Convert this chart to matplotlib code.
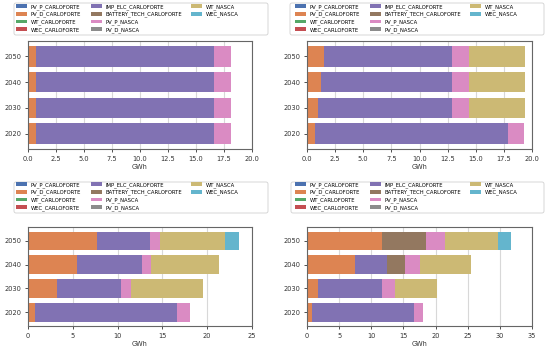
import matplotlib
matplotlib.use("Agg")
import matplotlib.pyplot as plt
from matplotlib.patches import FancyBboxPatch
from matplotlib.transforms import IdentityTransform
import numpy as np

years = ["2020", "2030", "2040", "2050"]
techs = ["PV_P_CARLOFORTE", "PV_D_CARLOFORTE", "WT_CARLOFORTE", "WEC_CARLOFORTE",
         "IMP_ELC_CARLOFORTE", "BATTERY_TECH_CARLOFORTE", "PV_P_NASCA", "PV_D_NASCA",
         "WT_NASCA", "WEC_NASCA"]
colors = ["#4c72b0", "#dd8452", "#55a868", "#c44e52", "#8172b3", "#937860",
          "#da8bc3", "#8c8c8c", "#ccb974", "#64b5cd"]

# Panel values (GWh) per tech, per year [2020, 2030, 2040, 2050]
p1 = {
    "PV_D_CARLOFORTE": [0.75, 0.75, 0.75, 0.75],
    "IMP_ELC_CARLOFORTE": [15.85, 15.85, 15.85, 15.85],
    "PV_P_NASCA": [1.5, 1.5, 1.5, 1.5],
}
p2 = {
    "PV_D_CARLOFORTE": [0.75, 1.0, 1.25, 1.5],
    "IMP_ELC_CARLOFORTE": [17.15, 11.9, 11.65, 11.4],
    "PV_P_NASCA": [1.4, 1.5, 1.5, 1.5],
    "WT_NASCA": [0.0, 4.95, 4.95, 4.95],
}
p3 = {
    "PV_D_CARLOFORTE": [0.74, 3.2, 5.5, 7.65],
    "IMP_ELC_CARLOFORTE": [15.94, 7.13, 7.24, 6.02],
    "PV_P_NASCA": [1.42, 1.11, 1.0, 1.08],
    "WT_NASCA": [0.0, 8.06, 7.56, 7.24],
    "WEC_NASCA": [0.0, 0.0, 0.0, 1.61],
}
p4 = {
    "PV_D_CARLOFORTE": [0.73, 1.67, 7.45, 11.67],
    "IMP_ELC_CARLOFORTE": [15.94, 10.05, 5.0, 0.0],
    "BATTERY_TECH_CARLOFORTE": [0.0, 0.0, 2.81, 6.87],
    "PV_P_NASCA": [1.43, 1.98, 2.34, 2.96],
    "WT_NASCA": [0.0, 6.6, 7.97, 8.24],
    "WEC_NASCA": [0.0, 0.0, 0.0, 2.03],
}
panels = [p1, p2, p3, p4]
xlims = [(0, 20), (0, 20), (0, 25), (0, 35)]
xticks = [np.arange(0, 20.1, 2.5), np.arange(0, 20.1, 2.5), np.arange(0, 26, 5), np.arange(0, 36, 5)]

W, H = 550, 349
fig = plt.figure(figsize=(W / 100, H / 100), dpi=100)
rects = [(28, 41, 252, 149), (307, 41, 532, 149), (28, 227, 252, 326), (307, 227, 532, 326)]
leg_top = [4, 4, 182, 182]
col_x = [[16, 91, 191], [295, 370, 470], [16, 91, 191], [295, 370, 470]]
col_groups = [(0, 4), (4, 8), (8, 10)]
leg_frame = [(14, 3, 268, 35), (290, 3, 544, 35), (14, 182, 268, 213), (291, 182, 544, 213)]

for i, (data, r) in enumerate(zip(panels, rects)):
    x0, y0, x1, y1 = r
    ax = fig.add_axes([x0 / W, 1 - y1 / H, (x1 - x0) / W, (y1 - y0) / H])
    ypos = np.arange(len(years))
    left = np.zeros(len(years))
    handles = []
    for t, c in zip(techs, colors):
        vals = np.array(data.get(t, [0.0] * len(years)))
        h = ax.barh(ypos, vals, left=left, color=c, height=0.8, label=t)
        handles.append(h)
        left = left + vals
    ax.set_yticks(ypos)
    ax.set_yticklabels(years)
    ax.set_xlim(*xlims[i])
    ax.set_xticks(xticks[i])
    if i < 2:
        ax.set_xticklabels([f"{v:.1f}" for v in xticks[i]])
    ax.tick_params(labelsize=4.8, length=2.5, width=0.6, pad=2.2, colors="#333333")
    ax.set_xlabel("GWh", fontsize=4.8, labelpad=2, color="#333333")
    ax.grid(axis="x", color="#d8d8d8", linewidth=0.8)
    ax.set_axisbelow(True)
    for s in ax.spines.values():
        s.set_color("#666666")
        s.set_linewidth(0.8)

    fx0, fy0, fx1, fy1 = leg_frame[i]
    frame = FancyBboxPatch((fx0, H - fy1), fx1 - fx0, fy1 - fy0,
                           boxstyle="round,pad=0,rounding_size=2",
                           transform=IdentityTransform(), facecolor="white",
                           edgecolor="#d0d0d0", linewidth=0.6)
    fig.patches.append(frame)
    for (a, b), cx in zip(col_groups, col_x[i]):
        fig.legend(handles=handles[a:b], labels=techs[a:b], ncol=1, fontsize=3.8,
                   loc="upper left", bbox_to_anchor=(cx / W, 1 - leg_top[i] / H),
                   handlelength=2.0, handleheight=0.7, handletextpad=0.8,
                   labelspacing=0.38, borderpad=0.0,
                   borderaxespad=0.0, frameon=False)

fig.savefig("out.png", dpi=100)
